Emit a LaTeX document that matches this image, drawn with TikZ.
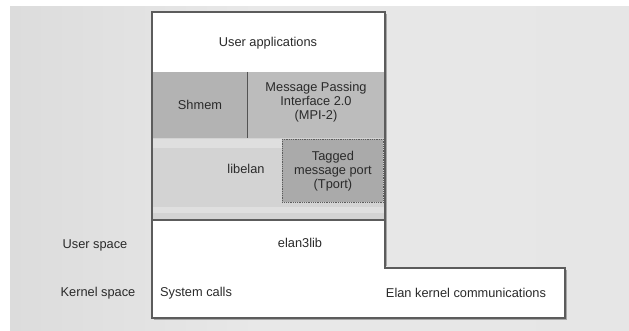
\documentclass[tikz,border=0pt]{standalone}
\usepackage{fontspec}
\setmainfont{Liberation Sans}
\definecolor{gA}{HTML}{CDCDCD}
\definecolor{gB}{HTML}{E8E8E8}
\definecolor{gC}{HTML}{E6E6E6}
\definecolor{gD}{HTML}{CFCFCF}
\definecolor{edge}{HTML}{5C5C5C}
\definecolor{shmemc}{HTML}{B3B3B3}
\definecolor{mpic}{HTML}{BCBCBC}
\definecolor{libc}{HTML}{D3D3D3}
\definecolor{bandc}{HTML}{DFDFDF}
\definecolor{tportc}{HTML}{AAAAAA}
\definecolor{txt}{HTML}{2A2A2A}
\pgfdeclarehorizontalshading{bgshade}{100bp}{color(0bp)=(gA); color(45bp)=(gB); color(75bp)=(gC); color(100bp)=(gD)}
\begin{document}
\begin{tikzpicture}[x=1pt,y=-1pt,
  lbl/.style={text=txt,font=\fontsize{12.8}{13.8}\selectfont,align=center,inner sep=0pt},
  blk/.style={rectangle,inner sep=0pt,anchor=north west,draw=none}]
\useasboundingbox (0,0) rectangle (629,331);
\fill[white] (0,0) rectangle (629,331);
\shade[shading=bgshade] (10,7) rectangle (629,331);
% user applications
\node[blk,fill=white,minimum width=233pt,minimum height=60pt] (apps) at (152,12) {};
\node[lbl] (appsT) at (268,43) {User applications};
% shmem / mpi
\node[blk,fill=shmemc,minimum width=95pt,minimum height=66pt] (shmem) at (152,72) {};
\node[lbl] (shmemT) at (200,105) {Shmem};
\node[blk,fill=mpic,minimum width=138pt,minimum height=66pt] (mpi) at (247,72) {};
\node[lbl] (mpiT) at (316,102) {Message Passing\\Interface 2.0\\(MPI-2)};
\draw[edge!90!black,line width=1.6pt] (shmem.north east) -- (shmem.south east);
% libelan
\node[blk,fill=libc,minimum width=233pt,minimum height=82pt] (lib) at (152,138) {};
\fill[bandc] (152,207) rectangle (385,213);
\fill[bandc] (152,139) rectangle (282,148);
\node[lbl] (libT) at (246,169) {libelan};
\node[blk,fill=tportc,draw=edge,densely dotted,line width=0.8pt,minimum width=101pt,minimum height=63pt] (tport) at (282,139) {};
\node[lbl] (tportT) at (tport.center) {Tagged\\message port\\(Tport)};
% bottom white region
\fill[white] (152,220) -- (385,220) -- (385,268) -- (565,268) -- (565,318) -- (152,318) -- cycle;
\draw[edge,line width=1.2pt] (152,220) -- (385,220);
\draw[edge,line width=1.2pt] (152,12) -- (385,12) -- (385,268) -- (565,268) -- (565,318) -- (152,318) -- cycle;
\draw[gray!70,line width=1.2pt] (386.5,14) -- (386.5,266);
\draw[gray!70,line width=1.2pt] (566.5,270) -- (566.5,319.5) -- (154,319.5);
\node[lbl] (elan) at (300,243) {elan3lib};
\node[lbl] (sys) at (196,293) {System calls};
\node[lbl] (kcomm) at (466,293) {Elan kernel communications};
% side labels
\node[lbl] (uspace) at (95,245) {User space};
\node[lbl] (kspace) at (98,293) {Kernel space};
\end{tikzpicture}
\end{document}
